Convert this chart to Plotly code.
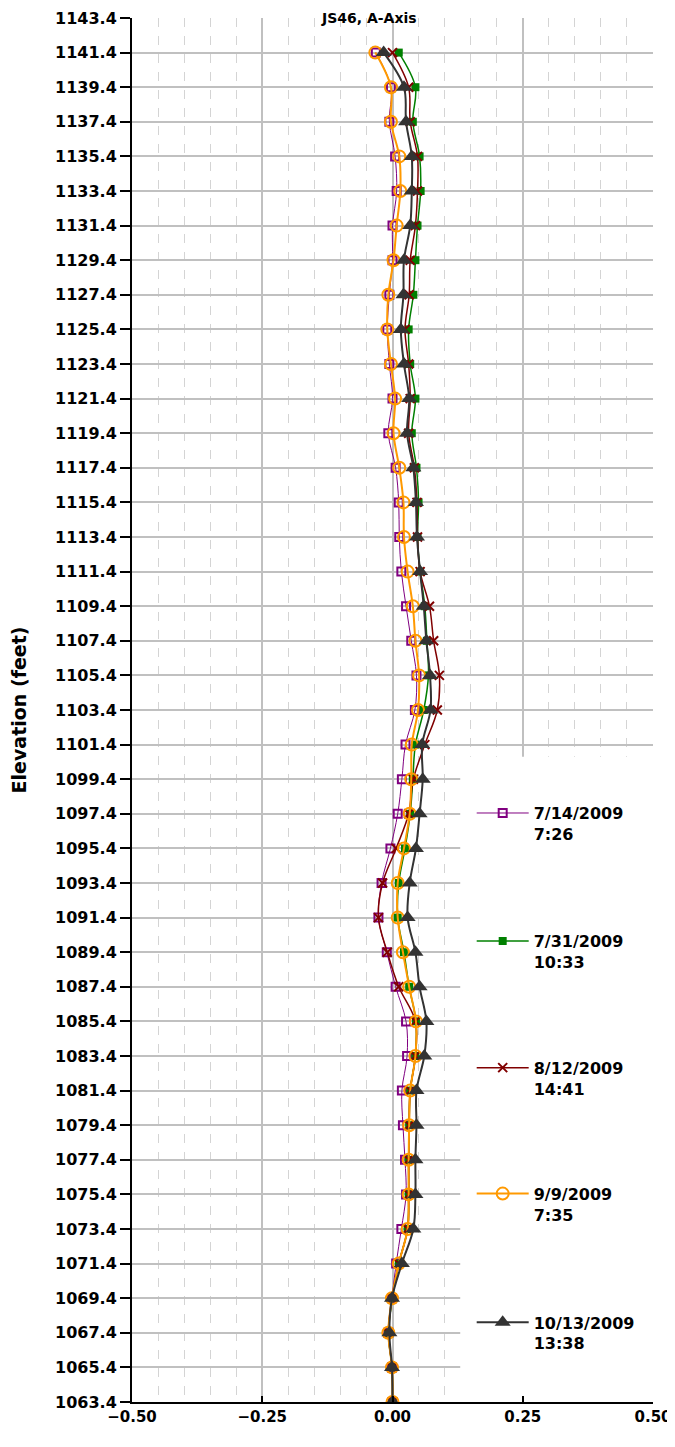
import plotly.graph_objects as go

# Data ---------------------------------------------------------------------------------------------
elevation = [1141.4, 1139.4, 1137.4, 1135.4, 1133.4, 1131.4, 1129.4, 1127.4, 1125.4, 1123.4,
             1121.4, 1119.4, 1117.4, 1115.4, 1113.4, 1111.4, 1109.4, 1107.4, 1105.4, 1103.4,
             1101.4, 1099.4, 1097.4, 1095.4, 1093.4, 1091.4, 1089.4, 1087.4, 1085.4, 1083.4,
             1081.4, 1079.4, 1077.4, 1075.4, 1073.4, 1071.4, 1069.4, 1067.4, 1065.4, 1063.4]

s_0714 = [-0.032, -0.003, -0.006, 0.005, 0.008, 0.000, 0.000, -0.006, -0.010, -0.006,
          0.000, -0.008, 0.006, 0.012, 0.013, 0.017, 0.026, 0.036, 0.046, 0.043,
          0.025, 0.018, 0.010, -0.004, -0.021, -0.027, -0.011, 0.006, 0.026, 0.028,
          0.018, 0.020, 0.024, 0.026, 0.017, 0.007, -0.001, -0.008, -0.001, 0.000]
s_0731 = [0.012, 0.044, 0.039, 0.052, 0.054, 0.048, 0.044, 0.040, 0.031, 0.034,
          0.044, 0.037, 0.046, 0.050, 0.048, 0.053, 0.062, 0.066, 0.069, 0.060,
          0.044, 0.039, 0.034, 0.024, 0.012, 0.010, 0.022, 0.032, 0.045, 0.044,
          0.034, 0.032, 0.031, 0.031, 0.029, 0.012, 0.000, -0.008, -0.001, 0.000]
s_0812 = [0.000, 0.031, 0.034, 0.048, 0.048, 0.044, 0.034, 0.032, 0.024, 0.031,
          0.034, 0.031, 0.042, 0.047, 0.048, 0.053, 0.071, 0.079, 0.090, 0.086,
          0.062, 0.040, 0.031, 0.007, -0.019, -0.027, -0.010, 0.012, 0.044, 0.044,
          0.034, 0.032, 0.031, 0.031, 0.029, 0.012, -0.001, -0.008, -0.001, 0.000]
s_0909 = [-0.033, -0.003, -0.003, 0.013, 0.015, 0.008, 0.002, -0.008, -0.010, -0.003,
          0.005, 0.002, 0.013, 0.021, 0.022, 0.029, 0.039, 0.044, 0.051, 0.049,
          0.037, 0.036, 0.033, 0.022, 0.010, 0.010, 0.020, 0.032, 0.045, 0.044,
          0.034, 0.032, 0.031, 0.031, 0.029, 0.012, -0.001, -0.008, -0.001, 0.000]
s_1013 = [-0.017, 0.022, 0.026, 0.037, 0.037, 0.034, 0.022, 0.021, 0.016, 0.022,
          0.032, 0.028, 0.040, 0.045, 0.047, 0.053, 0.060, 0.065, 0.072, 0.073,
          0.057, 0.058, 0.052, 0.045, 0.033, 0.029, 0.044, 0.052, 0.065, 0.061,
          0.046, 0.046, 0.044, 0.044, 0.040, 0.018, -0.001, -0.006, -0.001, 0.000]

series_names = ['7/14/2009<br>7:26', '7/31/2009<br>10:33', '8/12/2009<br>14:41',
                '9/9/2009<br>7:35', '10/13/2009<br>13:38']
series_values = [s_0714, s_0731, s_0812, s_0909, s_1013]
# ---------------------------------------------------------------------------------------------------

colors = ['#800080', '#008000', '#800000', '#FF9900', '#333333']
symbols = ['square-open', 'square', 'x-thin-open', 'circle-open', 'triangle-up']
msizes = [8, 8, 9, 12, 14]
lwidths = [1, 1.5, 1.5, 2, 2]
legend_ids = ['legend', 'legend2', 'legend3', 'legend4', 'legend5']
legend_y = [0.4378, 0.3453, 0.2538, 0.1628, 0.0698]

FONT = 'DejaVu Sans'

fig = go.Figure()
for name, vals, c, sym, ms, lw, lg in zip(series_names, series_values, colors, symbols,
                                          msizes, lwidths, legend_ids):
    fig.add_trace(go.Scatter(
        x=vals, y=elevation, name=name, mode='lines+markers',
        line=dict(color=c, width=lw, shape='spline', smoothing=1.0),
        marker=dict(symbol=sym, size=ms, color=c, line=dict(color=c, width=2 if 'open' in sym else 0)),
        legend=lg,
    ))

# white box behind the legend, hides the gridlines there
fig.add_shape(type='rect', xref='x', yref='y', x0=0.13, x1=0.52, y0=1063.4, y1=1100.7,
              fillcolor='white', line_width=0, layer='between')

legend_common = dict(x=0.652, xanchor='left', yanchor='top', bgcolor='rgba(0,0,0,0)',
                     font=dict(family=FONT, size=16, color='black', weight='bold'),
                     valign='top', itemwidth=52, tracegroupgap=0)
layout_legends = {}
for lg, ly in zip(legend_ids, legend_y):
    layout_legends[lg] = dict(legend_common, y=ly)

# the page adds an 8px body margin, margins below account for it
fig.update_layout(
    width=675, height=1447,
    margin=dict(l=124, r=30, t=10, b=53, autoexpand=False),
    paper_bgcolor='white', plot_bgcolor='white',
    showlegend=True,
    **layout_legends,
)

fig.add_annotation(text='<b>JS46, A-Axis</b>', xref='paper', yref='paper', x=0.455, y=1.0072,
                   xanchor='center', yanchor='top', showarrow=False,
                   font=dict(family=FONT, size=14, color='black'))

fig.update_xaxes(
    range=[-0.5, 0.5], dtick=0.25, tick0=-0.5, tickformat='.2f', automargin=False,
    showgrid=True, gridcolor='#c0c0c0', gridwidth=2,
    minor=dict(dtick=0.05, showgrid=True, gridcolor='#d4d4d4', gridwidth=1, griddash='dash'),
    zeroline=False, showline=True, linecolor='black', linewidth=2,
    ticks='inside', ticklen=6, tickwidth=2, tickcolor='black',
    tickfont=dict(family=FONT, size=15, color='black', weight='bold'),
)
fig.update_yaxes(
    range=[1063.4, 1143.4], dtick=2, tick0=1063.4, tickformat='.1f', automargin=False,
    showgrid=True, gridcolor='#c0c0c0', gridwidth=2,
    zeroline=False, showline=True, linecolor='black', linewidth=2,
    ticks='outside', ticklen=10, tickwidth=2, tickcolor='black',
    tickfont=dict(family=FONT, size=16, color='black', weight='bold'),
    title=dict(text='Elevation (feet)', standoff=24,
               font=dict(family=FONT, size=19, color='black', weight='bold')),
)

fig.write_html('out.html')
